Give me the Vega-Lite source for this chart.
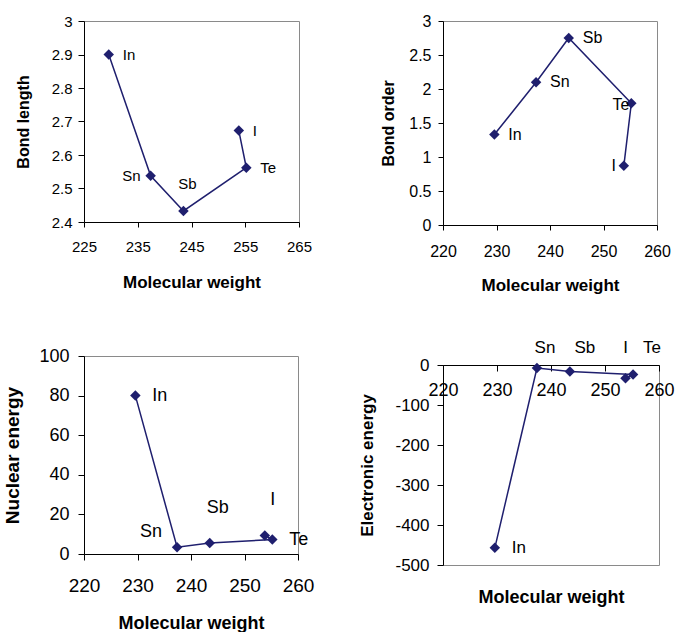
{
  "$schema": "https://vega.github.io/schema/vega-lite/v6.json",
  "background": "white",
  "padding": {"left": 3, "top": 12, "right": 0, "bottom": 0},
  "config": {
    "font": "Liberation Sans",
    "view": {"stroke": "#8a8a8a", "strokeWidth": 1},
    "axis": {
      "grid": false,
      "domainColor": "#000000",
      "tickColor": "#000000",
      "labelColor": "#000000",
      "titleColor": "#000000",
      "labelFont": "Liberation Sans",
      "titleFont": "Liberation Sans",
      "titleFontWeight": "bold",
      "tickSize": 6,
      "labelOverlap": false,
      "labelFlush": false
    },
    "line": {"color": "#1f1f6e", "strokeWidth": 1.5},
    "point": {"color": "#1f1f6e", "shape": "diamond", "filled": true, "size": 110, "opacity": 1},
    "text": {"color": "#000000", "font": "Liberation Sans", "baseline": "middle"}
  },
  "datasets": {
    "atoms": [
      {"el": "In", "z": 49, "mw": 229.6, "bondLength": 2.9, "bondOrder": 1.33, "nuclear": 80.0, "electronic": -457},
      {"el": "Sn", "z": 50, "mw": 237.4, "bondLength": 2.538, "bondOrder": 2.1, "nuclear": 3.4, "electronic": -7.5},
      {"el": "Sb", "z": 51, "mw": 243.5, "bondLength": 2.433, "bondOrder": 2.75, "nuclear": 5.5, "electronic": -16},
      {"el": "Te", "z": 52, "mw": 255.2, "bondLength": 2.562, "bondOrder": 1.79, "nuclear": 7.3, "electronic": -24},
      {"el": "I", "z": 53, "mw": 253.8, "bondLength": 2.673, "bondOrder": 0.87, "nuclear": 9.4, "electronic": -33}
    ]
  },
  "spacing": 43,
  "hconcat": [
    {
      "spacing": 55,
      "vconcat": [
        {
          "width": 215,
          "height": 201,
          "data": {"name": "atoms"},
          "encoding": {
            "x": {
              "field": "mw", "type": "quantitative",
              "scale": {"domain": [225, 265], "nice": false, "zero": false},
              "axis": {"title": "Molecular weight", "values": [225, 235, 245, 255, 265], "tickSize": 5, "labelFontSize": 15, "labelPadding": 12, "titleFontSize": 17, "titlePadding": 20}
            },
            "y": {
              "field": "bondLength", "type": "quantitative",
              "scale": {"domain": [2.4, 3], "nice": false, "zero": false},
              "axis": {"title": "Bond length", "values": [2.4, 2.5, 2.6, 2.7, 2.8, 2.9, 3], "labelExpr": "'' + datum.value", "labelFontSize": 15, "labelPadding": 6, "titleFontSize": 16, "titlePadding": 20}
            }
          },
          "layer": [
            {"mark": {"type": "line"}, "encoding": {"order": {"field": "z", "type": "quantitative"}}},
            {"mark": {"type": "point"}},
            {
              "transform": [{"filter": "indexof(['In', 'I', 'Te'], datum.el) >= 0"}],
              "mark": {"type": "text", "align": "left", "dx": 14, "fontSize": 15},
              "encoding": {"text": {"field": "el"}}
            },
            {
              "transform": [{"filter": "datum.el === 'Sn'"}],
              "mark": {"type": "text", "align": "right", "dx": -10, "fontSize": 15},
              "encoding": {"text": {"field": "el"}}
            },
            {
              "transform": [{"filter": "datum.el === 'Sb'"}],
              "mark": {"type": "text", "align": "center", "dx": 4, "dy": -27, "fontSize": 15},
              "encoding": {"text": {"field": "el"}}
            }
          ]
        },
        {
          "width": 214,
          "height": 198,
          "data": {"name": "atoms"},
          "encoding": {
            "x": {
              "field": "mw", "type": "quantitative",
              "scale": {"domain": [220, 260], "nice": false, "zero": false},
              "axis": {"title": "Molecular weight", "values": [220, 230, 240, 250, 260], "labelFontSize": 19, "labelPadding": 16, "titleFontSize": 18, "titlePadding": 19}
            },
            "y": {
              "field": "nuclear", "type": "quantitative",
              "scale": {"domain": [0, 100], "nice": false},
              "axis": {"title": "Nuclear energy", "values": [0, 20, 40, 60, 80, 100], "labelFontSize": 18, "labelPadding": 9, "titleFontSize": 19, "titlePadding": 16}
            }
          },
          "layer": [
            {"mark": {"type": "line"}, "encoding": {"order": {"field": "z", "type": "quantitative"}}},
            {"mark": {"type": "point"}},
            {
              "transform": [{"filter": "indexof(['In', 'Te'], datum.el) >= 0"}],
              "mark": {"type": "text", "align": "left", "dx": 17, "fontSize": 18},
              "encoding": {"text": {"field": "el"}}
            },
            {
              "transform": [{"filter": "datum.el === 'Sn'"}],
              "mark": {"type": "text", "align": "center", "dx": -26, "dy": -15, "fontSize": 18},
              "encoding": {"text": {"field": "el"}}
            },
            {
              "transform": [{"filter": "indexof(['Sb', 'I'], datum.el) >= 0"}],
              "mark": {"type": "text", "align": "center", "dx": 8, "dy": -35, "fontSize": 18},
              "encoding": {"text": {"field": "el"}}
            }
          ]
        }
      ]
    },
    {
      "spacing": 44,
      "vconcat": [
        {
          "width": 214,
          "height": 204,
          "data": {"name": "atoms"},
          "encoding": {
            "x": {
              "field": "mw", "type": "quantitative",
              "scale": {"domain": [220, 260], "nice": false, "zero": false},
              "axis": {"title": "Molecular weight", "values": [220, 230, 240, 250, 260], "tickSize": 5, "labelFontSize": 16, "labelPadding": 13, "titleFontSize": 17, "titlePadding": 18}
            },
            "y": {
              "field": "bondOrder", "type": "quantitative",
              "scale": {"domain": [0, 3], "nice": false},
              "axis": {"title": "Bond order", "values": [0, 0.5, 1, 1.5, 2, 2.5, 3], "labelExpr": "'' + datum.value", "tickSize": 5, "labelFontSize": 16, "labelPadding": 7, "titleFontSize": 16, "titlePadding": 12}
            }
          },
          "layer": [
            {"mark": {"type": "line"}, "encoding": {"order": {"field": "z", "type": "quantitative"}}},
            {"mark": {"type": "point"}},
            {
              "transform": [{"filter": "indexof(['In', 'Sn', 'Sb'], datum.el) >= 0"}],
              "mark": {"type": "text", "align": "left", "dx": 14, "fontSize": 16},
              "encoding": {"text": {"field": "el"}}
            },
            {
              "transform": [{"filter": "datum.el === 'Te'"}],
              "mark": {"type": "text", "align": "right", "dx": -2, "dy": 2, "fontSize": 16},
              "encoding": {"text": {"field": "el"}}
            },
            {
              "transform": [{"filter": "datum.el === 'I'"}],
              "mark": {"type": "text", "align": "right", "dx": -8, "fontSize": 16},
              "encoding": {"text": {"field": "el"}}
            }
          ]
        },
        {
          "width": 216,
          "height": 200,
          "data": {"name": "atoms"},
          "encoding": {
            "x": {
              "field": "mw", "type": "quantitative",
              "scale": {"domain": [220, 260], "nice": false, "zero": false},
              "axis": {"title": "Molecular weight", "values": [220, 230, 240, 250, 260], "offset": -200, "labelFontSize": 18, "labelPadding": 10, "titleFontSize": 18, "titlePadding": 189}
            },
            "y": {
              "field": "electronic", "type": "quantitative",
              "scale": {"domain": [-500, 0], "nice": false},
              "axis": {"title": "Electronic energy", "values": [-500, -400, -300, -200, -100, 0], "labelExpr": "'' + datum.value", "labelFontSize": 17, "labelPadding": 8, "titleFontSize": 17, "titlePadding": 18}
            }
          },
          "layer": [
            {"mark": {"type": "line"}, "encoding": {"order": {"field": "z", "type": "quantitative"}}},
            {"mark": {"type": "point"}},
            {
              "transform": [{"filter": "datum.el === 'In'"}],
              "mark": {"type": "text", "align": "left", "dx": 17, "fontSize": 17},
              "encoding": {"text": {"field": "el"}}
            },
            {
              "transform": [{"filter": "datum.el === 'Sn'"}],
              "mark": {"type": "text", "align": "center", "dx": 8, "dy": -17, "fontSize": 17},
              "encoding": {"text": {"field": "el"}, "y": {"datum": 0, "type": "quantitative"}}
            },
            {
              "transform": [{"filter": "datum.el === 'Sb'"}],
              "mark": {"type": "text", "align": "center", "dx": 15, "dy": -17, "fontSize": 17},
              "encoding": {"text": {"field": "el"}, "y": {"datum": 0, "type": "quantitative"}}
            },
            {
              "transform": [{"filter": "datum.el === 'I'"}],
              "mark": {"type": "text", "align": "center", "dx": 0, "dy": -17, "fontSize": 17},
              "encoding": {"text": {"field": "el"}, "y": {"datum": 0, "type": "quantitative"}}
            },
            {
              "transform": [{"filter": "datum.el === 'Te'"}],
              "mark": {"type": "text", "align": "center", "dx": 19, "dy": -17, "fontSize": 17},
              "encoding": {"text": {"field": "el"}, "y": {"datum": 0, "type": "quantitative"}}
            }
          ]
        }
      ]
    }
  ]
}
